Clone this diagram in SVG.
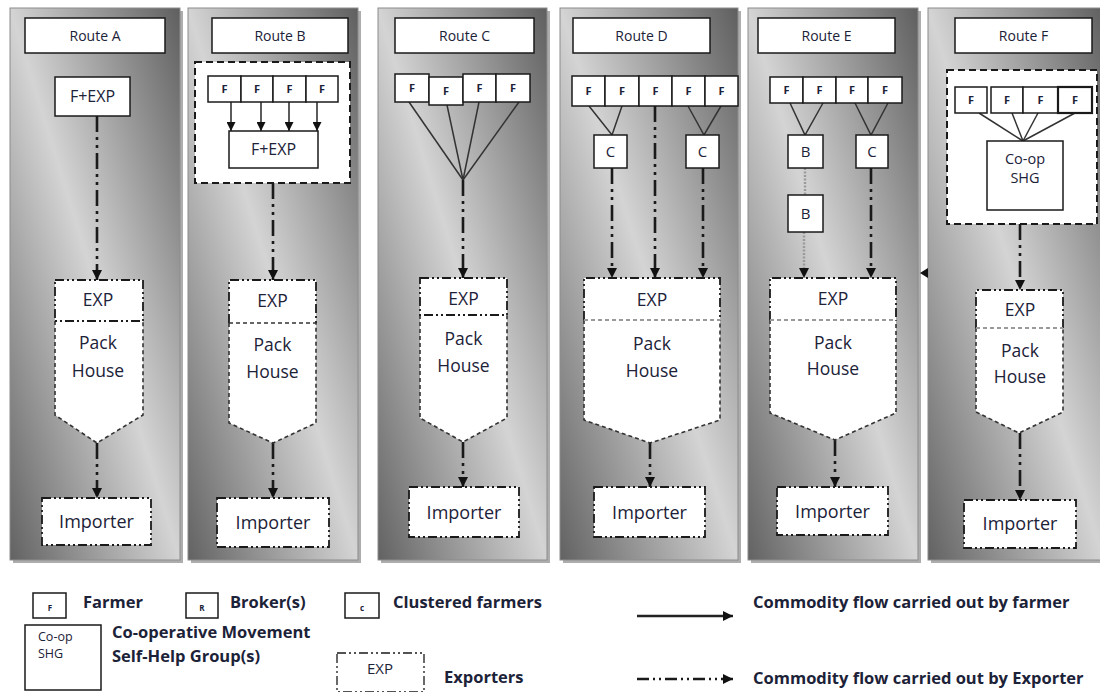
<svg xmlns="http://www.w3.org/2000/svg" width="1100" height="692" viewBox="0 0 1100 692">
  <defs>
    <linearGradient id="panelFill" x1="1" y1="0" x2="0" y2="1">
      <stop offset="0" stop-color="#5f5f5f"/>
      <stop offset="0.5" stop-color="#d4d4d4"/>
      <stop offset="1" stop-color="#626262"/>
    </linearGradient>
    <marker id="ah" markerUnits="userSpaceOnUse" markerWidth="10" markerHeight="10" refX="10" refY="5" orient="auto">
      <path d="M0,0 L10,5 L0,10 z" fill="#111"/>
    </marker>
    <marker id="ahs" markerUnits="userSpaceOnUse" markerWidth="9" markerHeight="9" refX="9" refY="4.5" orient="auto">
      <path d="M0,0 L9,4.5 L0,9 z" fill="#111"/>
    </marker>
    <style>
      .panel { fill: url(#panelFill); stroke: #8c8c8c; stroke-width: 1; }
      .shadow { fill: #6a6a6a; opacity: 0.55; }
      .hdr, .box { fill: #fff; stroke: #1a1a1a; stroke-width: 1.5; }
      .grp { fill: #fff; stroke: #1a1a1a; stroke-width: 2; stroke-dasharray: 7 4; }
      .dd { fill: #fff; stroke: #1a1a1a; stroke-width: 1.8; stroke-dasharray: 9 3 2 3 2 3; }
      .ddline { fill: none; stroke: #1a1a1a; stroke-width: 1.8; stroke-dasharray: 9 3 2 3 2 3; }
      .ph { fill: none; stroke: #333; stroke-width: 1.6; stroke-dasharray: 4 3; }
      .phfill { fill: #fff; stroke: none; }
      .divg { stroke: #9a9a9a; stroke-width: 2; stroke-dasharray: 4 3; }
      .divk { stroke: #333; stroke-width: 1.6; stroke-dasharray: 4 3; }
      .flow { fill: none; stroke: #1a1a1a; stroke-width: 2.6; stroke-dasharray: 16 5 3 5 3 5; marker-end: url(#ah); }
      .farm { fill: none; stroke: #333; stroke-width: 1.5; }
      .farmA { fill: none; stroke: #333; stroke-width: 1.6; marker-end: url(#ahs); }
      .dot { fill: none; stroke: #9a9a9a; stroke-width: 2.4; stroke-dasharray: 2 1.5; }
      text { font-family: "Open Sans", "Liberation Sans", sans-serif; fill: #1c2238; text-anchor: middle; }
      .t-hdr { font-size: 14px; }
      .t-f { font-size: 11px; font-weight: bold; }
      .t-fx { font-size: 16px; }
      .t-coopf { font-size: 14.5px; }
      .t-c { font-size: 15px; }
      .t-ph { font-size: 17.5px; }
      .t-imp { font-size: 18px; }
      .t-leg { font-size: 16.5px; font-weight: bold; text-anchor: start; }
      .t-tiny { font-size: 8px; font-weight: bold; }
      .t-coop { font-size: 12.5px; text-anchor: start; }
    </style>
  </defs>

  <!-- route panels -->
  <g id="panels">
    <rect class="shadow" x="13" y="11" width="170" height="552"/>
    <rect class="panel" x="10" y="8" width="170" height="552"/>
    <rect class="shadow" x="191" y="11" width="170" height="552"/>
    <rect class="panel" x="188" y="8" width="170" height="552"/>
    <rect class="shadow" x="381" y="11" width="169" height="552"/>
    <rect class="panel" x="378" y="8" width="169" height="552"/>
    <rect class="shadow" x="563" y="11" width="178" height="552"/>
    <rect class="panel" x="560" y="8" width="178" height="552"/>
    <rect class="shadow" x="751" y="11" width="170" height="552"/>
    <rect class="panel" x="748" y="8" width="170" height="552"/>
    <rect class="shadow" x="931" y="11" width="176" height="552"/>
    <rect class="panel" x="928" y="8" width="176" height="552"/>
  </g>

  <!-- grouping frames (route B farmer group, route F co-op) -->
  <g id="frames">
    <rect class="grp" x="195" y="62" width="155" height="121"/>
    <rect class="grp" x="947" y="70" width="150" height="154"/>
  </g>

  <!-- route headers -->
  <g id="hdr-a"><rect class="hdr" x="25" y="18" width="140" height="35"/><text class="t-hdr" x="95" y="41">Route A</text></g>
  <g id="hdr-b"><rect class="hdr" x="212" y="18" width="136" height="35"/><text class="t-hdr" x="280" y="41">Route B</text></g>
  <g id="hdr-c"><rect class="hdr" x="395" y="18" width="139" height="35"/><text class="t-hdr" x="464.5" y="41">Route C</text></g>
  <g id="hdr-d"><rect class="hdr" x="573" y="18" width="137" height="35"/><text class="t-hdr" x="641.5" y="41">Route D</text></g>
  <g id="hdr-e"><rect class="hdr" x="758" y="18" width="137" height="35"/><text class="t-hdr" x="826.5" y="41">Route E</text></g>
  <g id="hdr-f"><rect class="hdr" x="955" y="18" width="137" height="35"/><text class="t-hdr" x="1023.5" y="41">Route F</text></g>

  <!-- connectors -->
  <g id="connectors">
    <!-- route A -->
    <line class="flow" x1="97" y1="116" x2="97" y2="280"/>
    <line class="flow" x1="97" y1="443" x2="97" y2="498"/>
    <!-- route B -->
    <line class="farmA" x1="231" y1="102" x2="231" y2="131"/>
    <line class="farmA" x1="261" y1="102" x2="261" y2="131"/>
    <line class="farmA" x1="289" y1="102" x2="289" y2="131"/>
    <line class="farmA" x1="317" y1="102" x2="317" y2="131"/>
    <line class="flow" x1="273" y1="183" x2="273" y2="280"/>
    <line class="flow" x1="273" y1="443" x2="273" y2="498"/>
    <!-- route C -->
    <polyline class="farm" points="409,102 463,180"/>
    <polyline class="farm" points="447,105 463,180"/>
    <polyline class="farm" points="479,102 463,180"/>
    <polyline class="farm" points="519,102 463,180"/>
    <line class="flow" x1="463" y1="180" x2="463" y2="278"/>
    <line class="flow" x1="463" y1="442" x2="463" y2="487"/>
    <!-- route D -->
    <polyline class="farm" points="589,106 612,135 622,106"/>
    <polyline class="farm" points="688,106 704,135 721,106"/>
    <line class="flow" x1="612" y1="168" x2="612" y2="278"/>
    <line class="flow" x1="655" y1="106" x2="655" y2="278"/>
    <line class="flow" x1="703" y1="168" x2="703" y2="278"/>
    <line class="flow" x1="650" y1="443" x2="650" y2="487"/>
    <!-- route E -->
    <polyline class="farm" points="790,103 805,135 823,103"/>
    <polyline class="farm" points="855,103 871,135 888,103"/>
    <line class="dot" x1="805" y1="168" x2="805" y2="195"/>
    <line class="dot" x1="804" y1="232" x2="804" y2="269"/>
    <path d="M799,268 L809,268 L804,278 z" fill="#111"/>
    <line class="flow" x1="871" y1="168" x2="871" y2="278"/>
    <line class="flow" x1="835" y1="440" x2="835" y2="487"/>
    <!-- route F -->
    <polyline class="farm" points="979,113 1023,141"/>
    <polyline class="farm" points="1012,113 1023,141"/>
    <polyline class="farm" points="1038,113 1023,141"/>
    <polyline class="farm" points="1075,113 1023,141"/>
    <line class="flow" x1="1020" y1="224" x2="1020" y2="290"/>
    <line class="flow" x1="1020" y1="433" x2="1020" y2="500"/>
    <path d="M920,273 L928,268 L928,278 z" fill="#111"/>
  </g>

  <!-- route A nodes -->
  <g id="a-fexp"><rect class="box" x="55" y="77" width="75" height="39"/><text class="t-fx" x="92.5" y="102">F+EXP</text></g>
  <g id="a-packhouse">
    <path class="phfill" d="M55,280 H143 V415 L97,443 L55,415 z"/>
    <path class="ph" d="M55,321 V415 L97,443 L143,415 V321"/>
    <rect class="dd" x="55" y="280" width="88" height="41"/>
    <text class="t-ph" x="98" y="306">EXP</text>
    <text class="t-ph" x="98" y="349">Pack</text>
    <text class="t-ph" x="98" y="377">House</text>
  </g>
  <g id="a-importer"><rect class="dd" x="42" y="498" width="109" height="47"/><text class="t-imp" x="96.5" y="528">Importer</text></g>

  <!-- route B nodes -->
  <g id="b-farmers">
    <rect class="box" x="208" y="76" width="33" height="26"/><text class="t-f" x="224.5" y="93">F</text>
    <rect class="box" x="241" y="76" width="32" height="26"/><text class="t-f" x="257" y="93">F</text>
    <rect class="box" x="273" y="76" width="33" height="26"/><text class="t-f" x="289.5" y="93">F</text>
    <rect class="box" x="306" y="76" width="32" height="26"/><text class="t-f" x="322" y="93">F</text>
  </g>
  <g id="b-fexp"><rect class="box" x="229" y="131" width="89" height="37"/><text class="t-fx" x="273.5" y="155">F+EXP</text></g>
  <g id="b-packhouse">
    <path class="phfill" d="M229,280 H316 V423 L273,443 L229,423 z"/>
    <path class="ph" d="M229,323 V423 L273,443 L316,423 V323"/>
    <path class="ddline" d="M229,323 V280 H316 V323"/>
    <line class="divk" x1="229" y1="323" x2="316" y2="323"/>
    <text class="t-ph" x="272.5" y="307">EXP</text>
    <text class="t-ph" x="272.5" y="351">Pack</text>
    <text class="t-ph" x="272.5" y="378">House</text>
  </g>
  <g id="b-importer"><rect class="dd" x="217" y="498" width="112" height="49"/><text class="t-imp" x="273" y="529">Importer</text></g>

  <!-- route C nodes -->
  <g id="c-farmers">
    <rect class="box" x="395" y="74" width="34" height="28"/><text class="t-f" x="412" y="92">F</text>
    <rect class="box" x="429" y="77" width="34" height="28"/><text class="t-f" x="446" y="95">F</text>
    <rect class="box" x="463" y="74" width="33" height="28"/><text class="t-f" x="479.5" y="92">F</text>
    <rect class="box" x="496" y="74" width="34" height="28"/><text class="t-f" x="513" y="92">F</text>
  </g>
  <g id="c-packhouse">
    <path class="phfill" d="M420,278 H507 V418 L463,442 L420,418 z"/>
    <path class="ph" d="M420,315 V418 L463,442 L507,418 V315"/>
    <rect class="dd" x="420" y="278" width="87" height="37"/>
    <text class="t-ph" x="463.5" y="305">EXP</text>
    <text class="t-ph" x="463.5" y="345">Pack</text>
    <text class="t-ph" x="463.5" y="372">House</text>
  </g>
  <g id="c-importer"><rect class="dd" x="409" y="487" width="110" height="50"/><text class="t-imp" x="464" y="518.5">Importer</text></g>

  <!-- route D nodes -->
  <g id="d-farmers">
    <rect class="box" x="572" y="76" width="33" height="30"/><text class="t-f" x="588.5" y="95">F</text>
    <rect class="box" x="605" y="76" width="34" height="30"/><text class="t-f" x="622" y="95">F</text>
    <rect class="box" x="639" y="76" width="33" height="30"/><text class="t-f" x="655.5" y="95">F</text>
    <rect class="box" x="672" y="76" width="33" height="30"/><text class="t-f" x="688.5" y="95">F</text>
    <rect class="box" x="705" y="76" width="33" height="30"/><text class="t-f" x="721.5" y="95">F</text>
  </g>
  <g id="d-cluster-1"><rect class="box" x="594" y="135" width="33" height="33"/><text class="t-c" x="610.5" y="157">C</text></g>
  <g id="d-cluster-2"><rect class="box" x="686" y="135" width="33" height="33"/><text class="t-c" x="702.5" y="157">C</text></g>
  <g id="d-packhouse">
    <path class="phfill" d="M584,278 H720 V420 L650,443 L584,420 z"/>
    <path class="ph" d="M584,320 V420 L650,443 L720,420 V320"/>
    <path class="ddline" d="M584,320 V278 H720 V320"/>
    <line class="divg" x1="584" y1="320" x2="720" y2="320"/>
    <text class="t-ph" x="652" y="306">EXP</text>
    <text class="t-ph" x="652" y="350">Pack</text>
    <text class="t-ph" x="652" y="377">House</text>
  </g>
  <g id="d-importer"><rect class="dd" x="594" y="487" width="111" height="50"/><text class="t-imp" x="649.5" y="518.5">Importer</text></g>

  <!-- route E nodes -->
  <g id="e-farmers">
    <rect class="box" x="770" y="77" width="33" height="26"/><text class="t-f" x="786.5" y="94">F</text>
    <rect class="box" x="803" y="77" width="33" height="26"/><text class="t-f" x="819.5" y="94">F</text>
    <rect class="box" x="836" y="77" width="32" height="26"/><text class="t-f" x="852" y="94">F</text>
    <rect class="box" x="868" y="77" width="34" height="26"/><text class="t-f" x="885" y="94">F</text>
  </g>
  <g id="e-broker-1"><rect class="box" x="788" y="135" width="35" height="33"/><text class="t-c" x="805.5" y="157">B</text></g>
  <g id="e-broker-2"><rect class="box" x="788" y="195" width="35" height="37"/><text class="t-c" x="805.5" y="219">B</text></g>
  <g id="e-cluster"><rect class="box" x="856" y="135" width="32" height="33"/><text class="t-c" x="872" y="157">C</text></g>
  <g id="e-packhouse">
    <path class="phfill" d="M770,278 H896 V413 L835,440 L770,413 z"/>
    <path class="ph" d="M770,320 V413 L835,440 L896,413 V320"/>
    <path class="ddline" d="M770,320 V278 H896 V320"/>
    <line class="divg" x1="770" y1="320" x2="896" y2="320"/>
    <text class="t-ph" x="833" y="305">EXP</text>
    <text class="t-ph" x="833" y="349">Pack</text>
    <text class="t-ph" x="833" y="375">House</text>
  </g>
  <g id="e-importer"><rect class="dd" x="777" y="487" width="111" height="48"/><text class="t-imp" x="832.5" y="517.5">Importer</text></g>

  <!-- route F nodes -->
  <g id="f-farmers">
    <rect class="box" x="955" y="87" width="32" height="26"/><text class="t-f" x="971" y="104">F</text>
    <rect class="box" x="991" y="87" width="32" height="26"/><text class="t-f" x="1007" y="104">F</text>
    <rect class="box" x="1023" y="87" width="35" height="26"/><text class="t-f" x="1040.5" y="104">F</text>
    <rect class="box" x="1058" y="87" width="34" height="26" style="stroke-width:2.2"/><text class="t-f" x="1075" y="104">F</text>
  </g>
  <g id="f-coop">
    <rect class="box" x="987" y="141" width="76" height="69"/>
    <text class="t-coopf" x="1025" y="164">Co-op</text>
    <text class="t-coopf" x="1025" y="183">SHG</text>
  </g>
  <g id="f-packhouse">
    <path class="phfill" d="M976,290 H1063 V412 L1019,433 L976,412 z"/>
    <path class="ph" d="M976,328 V412 L1019,433 L1063,412 V328"/>
    <path class="ddline" d="M976,328 V290 H1063 V328"/>
    <line class="divg" x1="976" y1="328" x2="1063" y2="328"/>
    <text class="t-ph" x="1020" y="316">EXP</text>
    <text class="t-ph" x="1020" y="357">Pack</text>
    <text class="t-ph" x="1020" y="383">House</text>
  </g>
  <g id="f-importer"><rect class="dd" x="964" y="500" width="112" height="48"/><text class="t-imp" x="1020" y="530">Importer</text></g>

  <!-- key -->
  <g id="legend">
    <rect class="box" x="33" y="593" width="33" height="25"/><text class="t-tiny" x="50" y="611">F</text>
    <text class="t-leg" x="83" y="608">Farmer</text>
    <rect class="box" x="186" y="593" width="32" height="25"/><text class="t-tiny" x="202" y="611">R</text>
    <text class="t-leg" x="230" y="608">Broker(s)</text>
    <rect class="box" x="345" y="593" width="34" height="25"/><text class="t-tiny" x="362" y="611">c</text>
    <text class="t-leg" x="393" y="608">Clustered farmers</text>

    <line x1="637" y1="616" x2="733" y2="616" stroke="#222" stroke-width="2.4" marker-end="url(#ah)"/>
    <text class="t-leg" x="753" y="608">Commodity flow carried out by farmer</text>

    <rect class="box" x="25" y="625" width="76" height="65"/>
    <text class="t-coop" x="38" y="641">Co-op</text>
    <text class="t-coop" x="38" y="658">SHG</text>
    <text class="t-leg" x="112" y="638">Co-operative Movement</text>
    <text class="t-leg" x="112" y="662">Self-Help Group(s)</text>

    <rect class="dd" x="337" y="653" width="87" height="39" style="stroke-width:1.3"/>
    <text x="380" y="674" style="font-size:15px">EXP</text>
    <text class="t-leg" x="444" y="683">Exporters</text>

    <line class="flow" x1="637" y1="679" x2="733" y2="679" style="stroke-dasharray:12 4 2 4 2 4"/>
    <text class="t-leg" x="753" y="684">Commodity flow carried out by Exporter</text>
  </g>
</svg>
